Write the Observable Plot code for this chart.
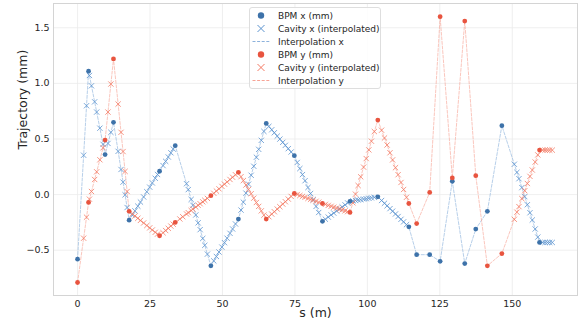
<!DOCTYPE html>
<html>
<head>
<meta charset="utf-8">
<script src="https://cdn.jsdelivr.net/npm/d3@7"></script>
<script src="https://cdn.jsdelivr.net/npm/@observablehq/plot@0.6"></script>
<style>
  html, body { margin: 0; padding: 0; background: #fff; }
  #wrap { position: relative; width: 586px; height: 323px; font-family: "DejaVu Sans", sans-serif; }
  #legend { position: absolute; left: 249px; top: 7px; width: 130px; height: 79px; border: 1px solid #dedede; border-radius: 3px; background: rgba(255,255,255,0.85); padding-top: 1px; box-sizing: content-box; }
  .row { display: flex; align-items: center; height: 13px; font-size: 9px; color: #262626; white-space: nowrap; }
  .row svg { width: 27px; height: 13px; flex: none; }
  .row span { margin-left: 1px; }
</style>
</head>
<body>
<div id="wrap"></div>
<script>
// BPM positions (m) and readings (mm)
const bpmS = [0, 3.8, 9.5, 12.4, 17.8, 28.3, 33.7, 46.0, 55.5, 65.1, 74.8, 84.5, 94.0, 103.6, 114.3, 117.0, 121.5, 125.1, 129.3, 133.6, 137.4, 141.4, 146.4, 159.4];
const bpmX = [-0.58, 1.11, 0.36, 0.65, -0.23, 0.21, 0.44, -0.64, -0.22, 0.64, 0.35, -0.24, -0.06, -0.02, -0.29, -0.54, -0.54, -0.60, 0.12, -0.62, -0.31, -0.15, 0.62, -0.43];
const bpmY = [-0.79, -0.07, 0.49, 1.22, -0.15, -0.37, -0.25, -0.01, 0.20, -0.22, 0.01, -0.08, -0.16, 0.67, -0.08, -0.26, 0.02, 1.60, 0.15, 1.56, 0.17, -0.64, -0.53, 0.40];

// Cavity positions (m) and values (mm)
const cavS = [
  2.1, 3.1, 4.1, 4.8, 5.9, 6.6, 7.7, 8.8, 10.5, 11.5, 14.0, 15.0, 15.7, 16.4, 17.1,
  18.9, 19.8, 20.8, 21.7, 22.8, 23.9, 24.9, 25.8, 26.8, 27.6, 29.5, 30.4, 31.3, 32.2, 33.0,
  35.3, 36.3,
  37.6, 38.2, 39.2, 39.8, 40.8, 41.6, 42.3, 43.2, 43.9, 44.8,
  47.0, 47.9, 48.8, 49.8, 50.7, 51.6, 52.6, 53.5, 54.5, 56.4, 57.2, 58.1, 59.0, 59.9, 60.8, 61.7, 62.5, 63.4, 64.3,
  66.0, 67.0, 67.9, 68.9, 69.8, 70.8, 71.7, 72.7, 73.7, 75.8, 76.7, 77.6, 78.5, 79.5, 80.4, 81.3, 82.3, 83.2, 85.5, 86.5, 87.5, 88.4, 89.4, 90.4, 91.3, 92.3, 93.2,
  95.0, 95.9, 96.8, 97.7, 98.7, 99.6, 100.5, 101.4, 102.4, 104.9, 105.9, 106.8, 107.8, 108.7, 109.7, 110.6, 111.6, 112.5, 113.5,
  150.7, 151.6, 152.3, 153.3, 154.3, 155.2, 156.1, 156.9, 157.9, 158.8, 160.5, 161.3, 162.1, 162.9, 163.8
];
const cavX = [
  0.354, 0.799, 1.071, 0.978, 0.834, 0.742, 0.597, 0.452, 0.46, 0.56, 0.389, 0.226, 0.112, -0.002, -0.116,
  -0.184, -0.146, -0.104, -0.067, -0.021, 0.026, 0.067, 0.105, 0.147, 0.181, 0.261, 0.299, 0.338, 0.376, 0.410,
  null, null,
  0.098, 0.045, -0.043, -0.096, -0.183, -0.254, -0.315, -0.394, -0.456, -0.535,
  -0.596, -0.556, -0.516, -0.472, -0.432, -0.392, -0.348, -0.309, -0.264, -0.139, -0.068, 0.013, 0.094, 0.174, 0.255, 0.336, 0.407, 0.488, 0.568,
  0.613, 0.583, 0.556, 0.526, 0.499, 0.470, 0.443, 0.413, 0.383, 0.289, 0.234, 0.180, 0.125, 0.064, 0.010, -0.045, -0.106, -0.161, -0.221, -0.202, -0.183, -0.166, -0.147, -0.128, -0.111, -0.092, -0.075,
  -0.056, -0.052, -0.048, -0.045, -0.040, -0.037, -0.033, -0.029, -0.025, -0.053, -0.078, -0.101, -0.126, -0.149, -0.174, -0.197, -0.222, -0.245, -0.270,
  0.273, 0.200, 0.143, 0.063, -0.018, -0.091, -0.163, -0.228, -0.309, -0.382, -0.43, -0.43, -0.43, -0.43, -0.43
];
const cavY = [
  -0.392, -0.203, -0.041, 0.028, 0.136, 0.205, 0.313, 0.421, 0.742, 0.994, 0.814, 0.560, 0.387, 0.209, 0.028,
  -0.173, -0.192, -0.213, -0.232, -0.255, -0.278, -0.299, -0.318, -0.339, -0.355, -0.343, -0.323, -0.303, -0.283, -0.266,
  -0.219, -0.199,
  -0.174, -0.162, -0.143, -0.131, -0.112, -0.096, -0.082, -0.065, -0.051, -0.034,
  0.012, 0.032, 0.052, 0.074, 0.094, 0.114, 0.136, 0.156, 0.178, 0.161, 0.126, 0.086, 0.047, 0.008, -0.032, -0.071, -0.106, -0.146, -0.185,
  -0.199, -0.175, -0.154, -0.130, -0.109, -0.085, -0.064, -0.040, -0.016, 0.001, -0.008, -0.016, -0.024, -0.034, -0.042, -0.050, -0.060, -0.068, -0.088, -0.097, -0.105, -0.113, -0.121, -0.130, -0.137, -0.146, -0.153,
  -0.074, 0.004, 0.082, 0.160, 0.247, 0.324, 0.402, 0.480, 0.567, 0.579, 0.509, 0.446, 0.376, 0.312, 0.242, 0.179, 0.109, 0.046, -0.024,
  -0.222, -0.158, -0.108, -0.036, 0.035, 0.100, 0.164, 0.221, 0.293, 0.357, 0.40, 0.40, 0.40, 0.40, 0.40
];

const yTicks = [-0.5, 0, 0.5, 1.0, 1.5];
const xTicks = [0, 25, 50, 75, 100, 125, 150];

const C = {
  bpmX: "#3d72a9", cavX: "#5b93cf", lineX: "#8db2dc",
  bpmY: "#e8543f", cavY: "#f47a64", lineY: "#f7a496"
};

const bpm = bpmS.map((s, i) => ({s, x: bpmX[i], y: bpmY[i]}));
const cav = cavS.map((s, i) => ({s, x: cavX[i], y: cavY[i]}));
const lineXData = d3.sort([...bpm, ...cav.filter(d => d.x != null)].map(d => ({s: d.s, v: d.x})), d => d.s);
const lineYData = d3.sort([...bpm, ...cav.filter(d => d.y != null)].map(d => ({s: d.s, v: d.y})), d => d.s);

const chart = Plot.plot({
  width: 586,
  height: 323,
  marginLeft: 53,
  marginRight: 9,
  marginTop: 3,
  marginBottom: 28,
  style: {fontFamily: "DejaVu Sans, sans-serif", fontSize: "9px", color: "#262626", background: "#fff"},
  x: {domain: [-8.3, 172.5], ticks: xTicks},
  y: {domain: [-0.907, 1.718], ticks: yTicks},
  marks: [
    Plot.gridX(xTicks, {stroke: "#ebebeb", strokeOpacity: 1, strokeWidth: 0.8}),
    Plot.gridY(yTicks, {stroke: "#ebebeb", strokeOpacity: 1, strokeWidth: 0.8}),
    Plot.frame({stroke: "#d4d4d4", strokeWidth: 1}),
    Plot.axisX(xTicks, {tickSize: 0, tickPadding: 5, label: null, fontSize: 9.5, fill: "#262626"}),
    Plot.axisY(yTicks, {tickSize: 0, tickPadding: 4, label: null, fontSize: 9.5, fill: "#262626", tickFormat: d3.format(".1f")}),
    Plot.text(["Trajectory (mm)"], {frameAnchor: "left", rotate: -90, dx: -31, fontSize: 12.5, fill: "#262626"}),
    Plot.text(["s (m)"], {frameAnchor: "bottom", dy: 21, fontSize: 12.5, fill: "#262626"}),
    Plot.line(lineXData, {x: "s", y: "v", stroke: C.lineX, strokeWidth: 0.9, strokeDasharray: "3,1.6", strokeOpacity: 0.7}),
    Plot.line(lineYData, {x: "s", y: "v", stroke: C.lineY, strokeWidth: 0.9, strokeDasharray: "3,1.6", strokeOpacity: 0.7}),
    Plot.dot(cav.filter(d => d.x != null), {x: "s", y: "x", symbol: "times", r: 2.5, stroke: C.cavX, strokeWidth: 1, strokeOpacity: 0.8}),
    Plot.dot(cav.filter(d => d.y != null), {x: "s", y: "y", symbol: "times", r: 2.5, stroke: C.cavY, strokeWidth: 1, strokeOpacity: 0.8}),
    Plot.dot(bpm, {x: "s", y: "x", r: 2.4, fill: C.bpmX, stroke: null}),
    Plot.dot(bpm, {x: "s", y: "y", r: 2.4, fill: C.bpmY, stroke: null})
  ]
});

const wrap = document.getElementById("wrap");
wrap.appendChild(chart);

const legendItems = [
  {label: "BPM x (mm)", kind: "dot", color: C.bpmX},
  {label: "Cavity x (interpolated)", kind: "times", color: C.cavX},
  {label: "Interpolation x", kind: "line", color: C.lineX},
  {label: "BPM y (mm)", kind: "dot", color: C.bpmY},
  {label: "Cavity y (interpolated)", kind: "times", color: C.cavY},
  {label: "Interpolation y", kind: "line", color: C.lineY}
];
const leg = document.createElement("div");
leg.id = "legend";
for (const it of legendItems) {
  const row = document.createElement("div");
  row.className = "row";
  let sw = "";
  if (it.kind === "dot") sw = `<circle cx="11" cy="6.5" r="3.2" fill="${it.color}"/>`;
  else if (it.kind === "times") sw = `<path d="M7.5,3 L14.5,10 M14.5,3 L7.5,10" stroke="${it.color}" stroke-width="1"/>`;
  else sw = `<line x1="2.5" y1="6.5" x2="20" y2="6.5" stroke="${it.color}" stroke-width="1" stroke-dasharray="3,1.6"/>`;
  row.innerHTML = `<svg viewBox="0 0 27 13">${sw}</svg><span>${it.label}</span>`;
  leg.appendChild(row);
}
wrap.appendChild(leg);
</script>
</body>
</html>
